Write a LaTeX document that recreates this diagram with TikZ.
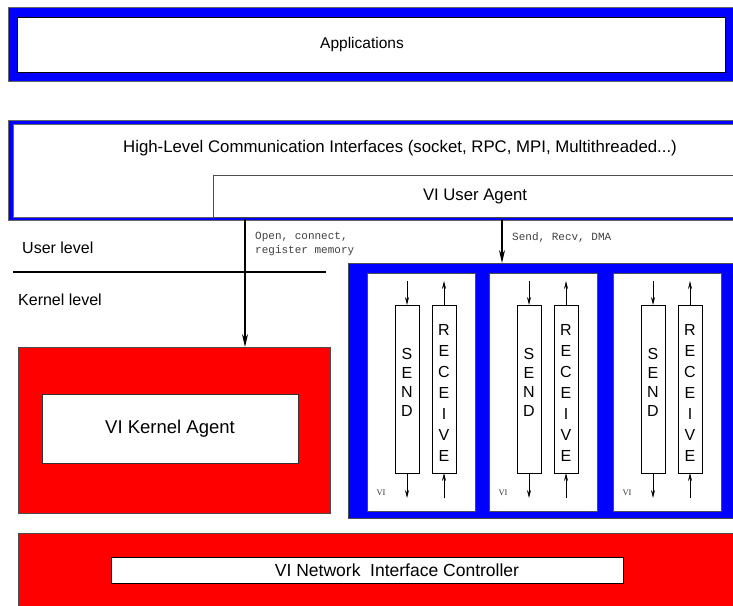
\documentclass[tikz,border=0pt]{standalone}
\usepackage{fontspec}
\setmainfont{Liberation Sans}
\newfontfamily\monof{Liberation Mono}
\newfontfamily\serf{Liberation Serif}
\usetikzlibrary{arrows.meta}
\definecolor{vblue}{RGB}{0,0,255}
\definecolor{vred}{RGB}{255,0,0}
\tikzset{
  x=1pt,y=-1pt,
  bluebox/.style={fill=vblue,draw=black!60,line width=0.8pt,inner sep=0,outer sep=0,anchor=north west},
  redbox/.style={fill=vred,draw=black!70,line width=0.6pt,inner sep=0,outer sep=0,anchor=north west},
  whitebox/.style={fill=white,draw=black,line width=0.8pt,inner sep=0,outer sep=0,anchor=north west},
  vibox/.style={fill=white,draw=black!70,line width=0.6pt,inner sep=0,outer sep=0,anchor=north west,minimum width=108,minimum height=238},
  qbox/.style={fill=white,draw=black,line width=0.6pt,inner sep=0,outer sep=0,anchor=north west,minimum width=24,minimum height=168},
  bigarrow/.style={line width=1.2pt,-{Stealth[length=13pt,width=6pt]}},
  smallarrow/.style={line width=0.8pt,-{Stealth[length=8pt,width=4pt]}},
  lbl/.style={font=\fontsize{16}{19}\selectfont,inner sep=0},
  mono/.style={font=\monof\fontsize{11}{13.5}\selectfont,inner sep=0,anchor=north west,text=black!75,align=left},
  vilbl/.style={font=\serf\fontsize{8.5}{10}\selectfont,inner sep=0,text=black!80},
  letters/.style={inner sep=0,align=center}
}
\begin{document}
\begin{tikzpicture}
\useasboundingbox (0,0) rectangle (733,605);
% Applications
\node[bluebox,minimum width=727,minimum height=74] (appout) at (8,7) {};
\node[whitebox,minimum width=708,minimum height=55] (appin) at (17,17) {};
\node[lbl,font=\fontsize{15.5}{18}\selectfont] (apptxt) at (362,44.5) {Applications};
% High-level interfaces
\node[bluebox,minimum width=727,minimum height=100] (hlout) at (8,120) {};
\node[fill=white,draw=black!60,line width=0.5pt,inner sep=0,outer sep=0,anchor=north west,minimum width=722,minimum height=93] (hlin) at (13,124) {};
\node[lbl,font=\fontsize{16.8}{20}\selectfont] (hltxt) at (400,148) {High-Level Communication Interfaces (socket, RPC, MPI, Multithreaded...)};
\node[fill=white,draw=black!70,line width=0.6pt,inner sep=0,outer sep=0,anchor=north west,minimum width=522,minimum height=42] (ua) at (213,175) {};
\node[lbl,font=\fontsize{16.7}{20}\selectfont] (uatxt) at (475,196) {VI User Agent};
% User / kernel level
\node[lbl,anchor=west] (ul) at (22,248) {User level};
\node[lbl,anchor=west] (kl) at (18,300) {Kernel level};
\coordinate (sepL) at (13,272);
\coordinate (sepR) at (326,272);
\draw[line width=1.2pt] (sepL) -- (sepR);
% Kernel agent
\node[redbox,minimum width=312,minimum height=166] (kred) at (18,347) {};
\node[whitebox,line width=0.6pt,draw=black!80,minimum width=256,minimum height=69] (kin) at (42,394) {};
\node[font=\fontsize{18.5}{22}\selectfont,inner sep=0] (ktxt) at (170,429) {VI Kernel Agent};
% VI block
\node[bluebox,draw=black!70,line width=0.6pt,minimum width=387,minimum height=255] (viout) at (348,263) {};
% arrows from user agent
\coordinate (a1s) at (245,219);
\coordinate (a2s) at (502,219);
\draw[bigarrow] (a1s) -- (a1s |- kred.north);
\draw[bigarrow] (a2s) -- (a2s |- viout.north);
\node[mono] (l1) at (255,232) {Open, connect,\\register memory};
\node[mono] (l2) at (512,232) {Send, Recv, DMA};
% three VIs
\foreach \L/\n in {367/a,489/b,613/c}{
  \node[vibox] (vi\n) at (\L,273) {};
  \node[qbox] (s\n) at (\L+28,305) {};
  \node[qbox] (r\n) at (\L+65,305) {};
  \node[letters,font=\fontsize{16}{19}\selectfont] at ([yshift=7pt]s\n.center) {S\\E\\N\\D};
  \node[letters,font=\fontsize{16}{21}\selectfont] at ([yshift=-4pt]r\n.center) {R\\E\\C\\E\\I\\V\\E};
  \coordinate (st\n) at ([yshift=24pt]s\n.north);
  \coordinate (sb\n) at ([yshift=-25pt]s\n.south);
  \coordinate (rt\n) at ([yshift=24pt]r\n.north);
  \coordinate (rb\n) at ([yshift=-25pt]r\n.south);
  \draw[smallarrow] (st\n) -- (s\n.north);
  \draw[smallarrow] (s\n.south) -- (sb\n);
  \draw[smallarrow] (r\n.north) -- (rt\n);
  \draw[smallarrow] (rb\n) -- (r\n.south);
  \node[vilbl] at (\L+14,493) {VI};
}
% NIC
\node[redbox,minimum width=717,minimum height=75] (nic) at (18,533) {};
\node[whitebox,minimum width=512,minimum height=26] (nicin) at (111,557) {};
\node[lbl,font=\fontsize{17.5}{20}\selectfont] (nictxt) at (397,570) {VI Network\ \ Interface Controller};
\end{tikzpicture}
\end{document}
